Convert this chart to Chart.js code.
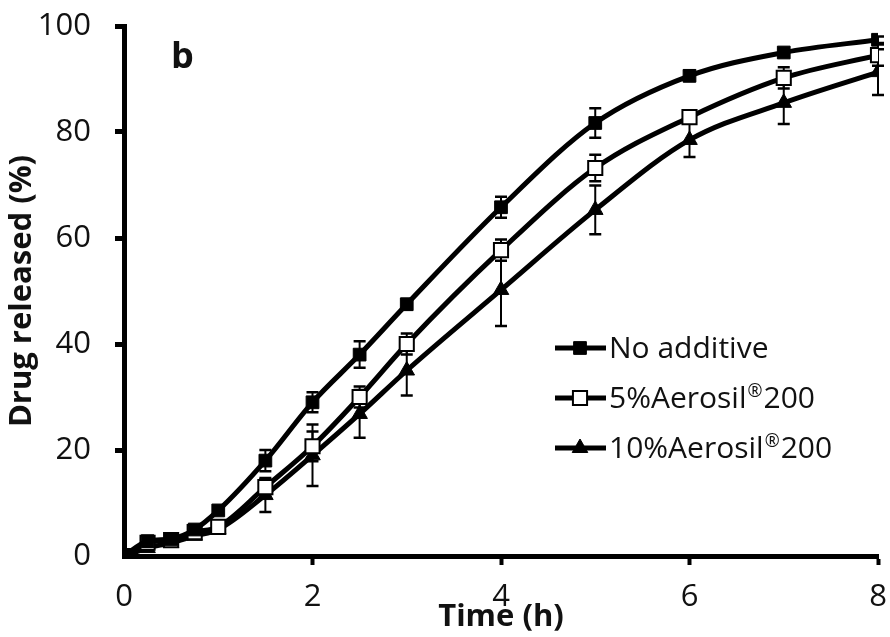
<!DOCTYPE html>
<html lang="en">
<head>
    <meta charset="UTF-8">
    <title>Drug release b</title>
    <script src="https://cdn.jsdelivr.net/npm/chart.js"></script>
    <style>
        body{ margin: 0; background: #fff; }
        .wrap{ width: 890px; height: 637px; position: relative; }
    </style>
</head>
<body>
<div class="wrap"><canvas id="miCanvas"></canvas></div>
<script>
    // time points (h)
    const times = [0, 0.25, 0.5, 0.75, 1, 1.5, 2, 2.5, 3, 4, 5, 6, 7, 8];
    // drug released (%)
    const noAdditive    = [0, 2.8, 3.2, 5, 8.6, 18, 29, 38, 47.5, 65.8, 81.7, 90.6, 95, 97.4];
    const noAdditiveErr = [0, 0.5, 0.5, 0.5, 0.8, 2, 1.9, 2.5, 1, 2, 2.8, 1, 0.6, 0.6];
    const aero5         = [0, 2.5, 3, 4.5, 5.5, 13, 20.7, 30, 40, 57.7, 73.2, 82.8, 90.2, 94.5];
    const aero5Err      = [0, 0.5, 0.5, 0.5, 0.8, 1.5, 2.8, 2, 2, 2, 2.5, 1, 2, 2];
    const aero10        = [0, 1.5, 2.5, 3.8, 5, 11.5, 19, 26.8, 35, 50.2, 65.3, 78.5, 85.5, 91.3];
    const aero10Err     = [0, 0.5, 0.5, 0.5, 0.8, 3.2, 5.8, 4.5, 4.7, 6.8, 4.6, 3.2, 4, 4.3];
    const seriesNames = ["No additive", "5%Aerosil\u00AE200", "10%Aerosil\u00AE200"];
    const xTicks = [0, 2, 4, 6, 8];
    const yTicks = [0, 20, 40, 60, 80, 100];

    const FONT = "'Open Sans', sans-serif";
    const pts = (ys) => times.map((t, i) => ({x: t, y: ys[i]}));
    const errs = [noAdditiveErr, aero5Err, aero10Err];

    // error bars drawn under the markers
    const errorBars = {
        id: 'errorBars',
        beforeDatasetsDraw(chart){
            const ctx = chart.ctx, xs = chart.scales.x, ys = chart.scales.y;
            ctx.save();
            ctx.strokeStyle = '#000';
            chart.data.datasets.forEach((ds, d) => {
                ds.data.forEach((p, i) => {
                    const e = errs[d][i];
                    if (!e) return;
                    const px = xs.getPixelForValue(p.x);
                    const top = ys.getPixelForValue(p.y + e);
                    const bot = ys.getPixelForValue(p.y - e);
                    ctx.lineWidth = 2;
                    ctx.beginPath();
                    ctx.moveTo(px, top); ctx.lineTo(px, bot);
                    ctx.stroke();
                    ctx.lineWidth = 2.5;
                    ctx.beginPath();
                    ctx.moveTo(px - 6, top); ctx.lineTo(px + 6, top);
                    ctx.moveTo(px - 6, bot); ctx.lineTo(px + 6, bot);
                    ctx.stroke();
                });
            });
            ctx.restore();
        }
    };

    // legend text with a small raised (R) sign
    function legendText(ctx, txt, x, y){
        const parts = txt.split('\u00AE');
        ctx.font = "30px " + FONT;
        ctx.fillText(parts[0], x, y);
        if (parts.length < 2) return;
        x += ctx.measureText(parts[0]).width + 1;
        ctx.font = "18px " + FONT;
        ctx.fillText('\u00AE', x, y - 7);
        x += ctx.measureText('\u00AE').width + 1;
        ctx.font = "30px " + FONT;
        ctx.fillText(parts[1], x, y);
    }

    // panel letter and legend with line + marker
    const extras = {
        id: 'extras',
        afterDraw(chart){
            const ctx = chart.ctx;
            ctx.save();
            ctx.fillStyle = '#111';
            ctx.font = "bold 36px " + FONT;
            ctx.textBaseline = 'alphabetic';
            ctx.fillText('b', 171, 68);

            const rows = [348, 398, 448];
            chart.data.datasets.forEach((ds, i) => {
                const y = rows[i];
                ctx.strokeStyle = '#000';
                ctx.lineWidth = 5;
                ctx.beginPath();
                ctx.moveTo(555, y); ctx.lineTo(606, y);
                ctx.stroke();
                ctx.fillStyle = ds.pointBackgroundColor;
                ctx.strokeStyle = ds.pointBorderColor;
                ctx.lineWidth = ds.pointBorderWidth;
                Chart.helpers.drawPoint(ctx, {
                    pointStyle: ds.pointStyle, radius: ds.pointRadius,
                    rotation: 0, borderWidth: ds.pointBorderWidth
                }, 580, y);
                ctx.fillStyle = '#111';
                ctx.textBaseline = 'middle';
                legendText(ctx, seriesNames[i], 609, y + 1);
            });
            ctx.restore();
        }
    };

    const lineDs = (label, ys, style, bg, bw, r) => ({
        label: label,
        data: pts(ys),
        borderColor: '#000',
        borderWidth: 5,
        cubicInterpolationMode: 'monotone',
        pointStyle: style,
        pointRadius: r,
        pointBackgroundColor: bg,
        pointBorderColor: '#000',
        pointBorderWidth: bw,
        fill: false
    });

    const hideZero = (c) => c.tick.value === 0 ? 'rgba(0,0,0,0)' : '#000';

    new Chart(document.getElementById('miCanvas'), {
        type: 'line',
        data: {
            datasets: [
                lineDs(seriesNames[0], noAdditive, 'rect', '#000', 1, 9),
                lineDs(seriesNames[1], aero5, 'rect', '#fff', 2, 10),
                lineDs(seriesNames[2], aero10, 'triangle', '#000', 1, 9)
            ]
        },
        options: {
            responsive: true,
            maintainAspectRatio: false,
            animation: false,
            devicePixelRatio: 1,
            layout: { padding: { top: 26, right: 12, left: 0, bottom: 0 } },
            plugins: { legend: { display: false }, tooltip: { enabled: false } },
            scales: {
                x: {
                    type: 'linear', min: 0, max: 8,
                    afterBuildTicks: (s) => { s.ticks = xTicks.map(v => ({value: v})); },
                    afterFit: (s) => { s.height = 81; s.paddingLeft = 0; s.paddingRight = 0; },
                    ticks: { font: { family: FONT, size: 31 }, color: '#111', padding: 14 },
                    grid: { drawOnChartArea: false, drawTicks: true, tickLength: 9, tickWidth: 4, tickColor: hideZero },
                    border: { color: '#000', width: 5 },
                    title: { display: true, text: 'Time (h)', color: '#111',
                        font: { family: FONT, size: 31, weight: 'bold' }, padding: { top: 0, bottom: 1 } }
                },
                y: {
                    min: 0, max: 100,
                    afterBuildTicks: (s) => { s.ticks = yTicks.map(v => ({value: v})); },
                    afterFit: (s) => { s.width = 124; s.paddingTop = 0; s.paddingBottom = 0; },
                    ticks: { font: { family: FONT, size: 31 }, color: '#111', padding: 24 },
                    grid: { drawOnChartArea: false, drawTicks: true, tickLength: 9, tickWidth: 5, tickColor: hideZero },
                    border: { color: '#000', width: 5 },
                    title: { display: true, text: 'Drug released (%)', color: '#111',
                        font: { family: FONT, size: 31, weight: 'bold' }, padding: { top: 4, bottom: 0 } }
                }
            }
        },
        plugins: [errorBars, extras]
    });
</script>
</body>
</html>
